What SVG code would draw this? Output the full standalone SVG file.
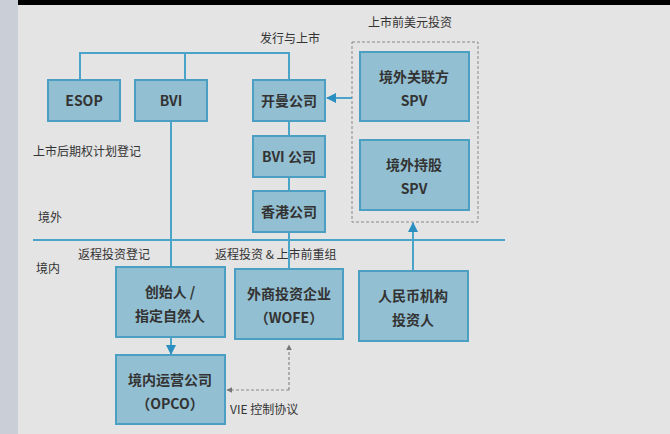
<svg xmlns="http://www.w3.org/2000/svg" width="670" height="434" viewBox="0 0 670 434">
<style>
.b{fill:#92bfd1;stroke:#4a9fc2;stroke-width:2}
.t{font-family:"Noto Sans CJK SC","Liberation Serif",serif;font-size:14px;fill:#333;text-anchor:middle;font-weight:bold}
.l{font-family:"Noto Sans CJK SC",serif;font-size:12px;fill:#333}
.c{stroke:#4aa3c8;stroke-width:2;fill:none}
.d{stroke:#888;stroke-width:1.2;stroke-dasharray:3,2;fill:none}
</style>
<defs>
<marker id="a" viewBox="0 0 10 10" refX="9" refY="5" markerWidth="5" markerHeight="5" orient="auto"><path d="M0,0L10,5L0,10z" fill="#2a8fc0"/></marker>
<marker id="g" viewBox="0 0 10 10" refX="9" refY="5" markerWidth="5" markerHeight="5" orient="auto"><path d="M0,0L10,5L0,10z" fill="#777"/></marker>
</defs>
<rect width="670" height="434" fill="#e4e4e4"/>
<rect width="18" height="434" fill="#c9ced7"/>
<rect x="18" width="652" height="5" fill="#000"/>
<text class="l" x="410" y="27" text-anchor="middle">上市前美元投资</text>
<text class="l" x="290" y="43" text-anchor="middle">发行与上市</text>
<text class="l" x="33" y="156">上市后期权计划登记</text>
<text class="l" x="38" y="222">境外</text>
<text class="l" x="36" y="273">境内</text>
<text class="l" x="78" y="259">返程投资登记</text>
<text class="l" x="215" y="259">返程投资 &amp; 上市前重组</text>
<text class="l" x="230" y="414">VIE 控制协议</text>
<rect x="352" y="42" width="126" height="180" fill="none" stroke="#888" stroke-dasharray="3,2"/>
<g id="connectors">
<path class="c" d="M80,80V53H289V80M185,53V80"/>
<path class="c" d="M171,121V267"/>
<path class="c" d="M289,121V136M289,177V191M289,232V269"/>
<path class="c" d="M33,240H505" stroke-width="1.5"/>
<path class="c" d="M352,98H327" marker-end="url(#a)"/>
<path class="c" d="M413,271V223" marker-end="url(#a)"/>
<path class="c" d="M171,337V354" marker-end="url(#a)"/>
<path class="d" d="M289,390V345" marker-end="url(#g)"/>
<path class="d" d="M289,390H227" marker-end="url(#g)"/>
</g>
<g id="esop"><rect class="b" x="48" y="80" width="72" height="41"/><text class="t" x="84" y="106">ESOP</text></g>
<g id="bvi"><rect class="b" x="135" y="80" width="72" height="41"/><text class="t" x="171" y="106">BVI</text></g>
<g id="cayman"><rect class="b" x="253" y="80" width="72" height="41"/><text class="t" x="289" y="106">开曼公司</text></g>
<g id="bvico"><rect class="b" x="253" y="136" width="72" height="41"/><text class="t" x="289" y="162">BVI 公司</text></g>
<g id="hk"><rect class="b" x="253" y="191" width="72" height="41"/><text class="t" x="289" y="217">香港公司</text></g>
<g id="spv1"><rect class="b" x="360" y="52" width="109" height="69"/><text class="t" x="414" y="82">境外关联方</text><text class="t" x="414" y="106">SPV</text></g>
<g id="spv2"><rect class="b" x="360" y="140" width="109" height="70"/><text class="t" x="414" y="170">境外持股</text><text class="t" x="414" y="194">SPV</text></g>
<g id="founder"><rect class="b" x="116" y="267" width="109" height="70"/><text class="t" x="170" y="297">创始人 /</text><text class="t" x="170" y="321">指定自然人</text></g>
<g id="wofe"><rect class="b" x="235" y="269" width="108" height="70"/><text class="t" x="289" y="299">外商投资企业</text><text class="t" x="289" y="323">（WOFE）</text></g>
<g id="rmb"><rect class="b" x="359" y="271" width="109" height="70"/><text class="t" x="413" y="301">人民币机构</text><text class="t" x="413" y="325">投资人</text></g>
<g id="opco"><rect class="b" x="116" y="355" width="109" height="69"/><text class="t" x="170" y="385">境内运营公司</text><text class="t" x="170" y="409">（OPCO）</text></g>
</svg>
